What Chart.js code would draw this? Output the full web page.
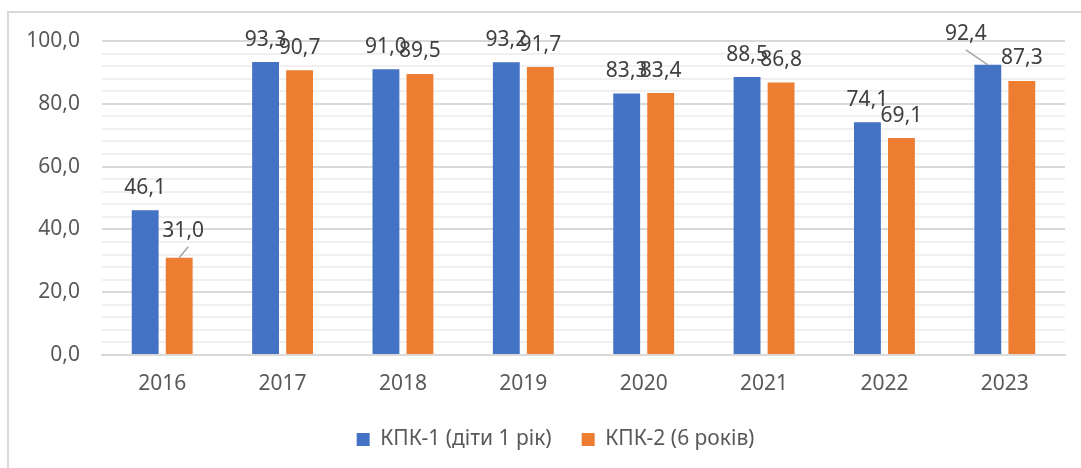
<!DOCTYPE html>
<html>
<head>
<meta charset="utf-8">
<script src="https://cdn.jsdelivr.net/npm/chart.js@4/dist/chart.umd.min.js"></script>
<style>
  html, body { margin: 0; padding: 0; background: #ffffff; overflow: hidden; }
  #frame { position: absolute; left: 7px; top: 11px; width: 1200px; height: 600px; border: 2px solid #d9d9d9; box-sizing: border-box; }
  #wrap { position: absolute; left: 0; top: 0; width: 1081px; height: 468px; }
</style>
</head>
<body>
<div id="frame"></div>
<div id="wrap"><canvas id="c" width="1081" height="468"></canvas></div>
<script>
const categories = ['2016', '2017', '2018', '2019', '2020', '2021', '2022', '2023'];
const seriesNames = ['КПК-1 (діти 1 рік)', 'КПК-2 (6 років)'];
const kpk1 = [46.1, 93.3, 91.0, 93.2, 83.3, 88.5, 74.1, 92.4];
const kpk2 = [31.0, 90.7, 89.5, 91.7, 83.4, 86.8, 69.1, 87.3];
const yTickLabels = ['0,0', '20,0', '40,0', '60,0', '80,0', '100,0'];

// label nudges [dx, dy] relative to default position (styling only)
const nudge1 = [[0,0],[0,0],[0,0],[0,0],[0,0],[0,0],[0,0],[-22,-8]];
const nudge2 = [[4,-4],[0,0],[0,0],[0,0],[0,0],[0,0],[0,0],[0,0]];
const leader1 = [false,false,false,false,false,false,false,true];
const leader2 = [true,false,false,false,false,false,false,false];

const FONT = "'Noto Sans', 'DejaVu Sans', sans-serif";
const fmt = v => v.toFixed(1).replace('.', ',');

const labelPlugin = {
  id: 'valueLabels',
  afterDatasetsDraw(chart) {
    const ctx = chart.ctx;
    const nudges = [nudge1, nudge2];
    const leaders = [leader1, leader2];
    ctx.save();
    ctx.font = '21px ' + FONT;
    ctx.fillStyle = '#404040';
    ctx.textAlign = 'center';
    ctx.textBaseline = 'alphabetic';
    chart.data.datasets.forEach((ds, di) => {
      const meta = chart.getDatasetMeta(di);
      meta.data.forEach((bar, i) => {
        const [dx, dy] = nudges[di][i];
        const cx = bar.x + dx;
        const cy = bar.y - 24 + dy;
        if (leaders[di][i]) {
          ctx.save();
          ctx.strokeStyle = '#a6a6a6';
          ctx.lineWidth = 1.5;
          ctx.beginPath();
          ctx.moveTo(bar.x, bar.y);
          ctx.lineTo(cx + (dx > 0 ? 5 : 0), cy + 17);
          ctx.stroke();
          ctx.restore();
        }
        ctx.fillText(fmt(ds.data[i]), cx, cy + 7.5);
      });
    });
    ctx.restore();
  }
};

// shift legend box so it is centred like the reference
const legendShift = {
  id: 'legendShift',
  beforeDraw(chart) {
    if (chart.legend) chart.legend.left = 46;
  }
};

new Chart(document.getElementById('c'), {
  type: 'bar',
  data: {
    labels: categories,
    datasets: [
      { label: seriesNames[0], data: kpk1, backgroundColor: '#4472c4', borderColor: '#ffffff', borderWidth: 0 },
      { label: seriesNames[1], data: kpk2, backgroundColor: '#ed7d31', borderColor: '#ffffff', borderWidth: 0 }
    ]
  },
  options: {
    responsive: false,
    animation: false,
    devicePixelRatio: 1,
    layout: { padding: { left: 0, right: 16, top: 41, bottom: 8 } },
    datasets: { bar: { categoryPercentage: 0.565, barPercentage: 0.79 } },
    scales: {
      x: {
        grid: { display: false, drawTicks: false },
        border: { display: true, color: '#d9d9d9', width: 2 },
        ticks: { color: '#595959', font: { family: FONT, size: 21 }, padding: 16, maxRotation: 0 },
        afterFit(s) { s.height = 44; }
      },
      y: {
        min: 0, max: 100,
        grid: {
          drawTicks: false,
          color: c => (c.tick && c.tick.value % 20 === 0) ? '#d9d9d9' : '#f0f0f0',
          lineWidth: 2
        },
        border: { display: false },
        ticks: {
          stepSize: 4,
          autoSkip: false,
          color: '#595959',
          font: { family: FONT, size: 21 },
          padding: 22,
          callback: v => (v % 20 === 0) ? yTickLabels[v / 20] : ''
        },
        afterFit(s) { s.width = 102; }
      }
    },
    plugins: {
      legend: {
        position: 'bottom',
        labels: {
          boxWidth: 13, boxHeight: 13,
          color: '#595959',
          font: { family: FONT, size: 21 },
          padding: 30
        }
      },
      tooltip: { enabled: false }
    }
  },
  plugins: [labelPlugin, legendShift]
});
</script>
</body>
</html>
